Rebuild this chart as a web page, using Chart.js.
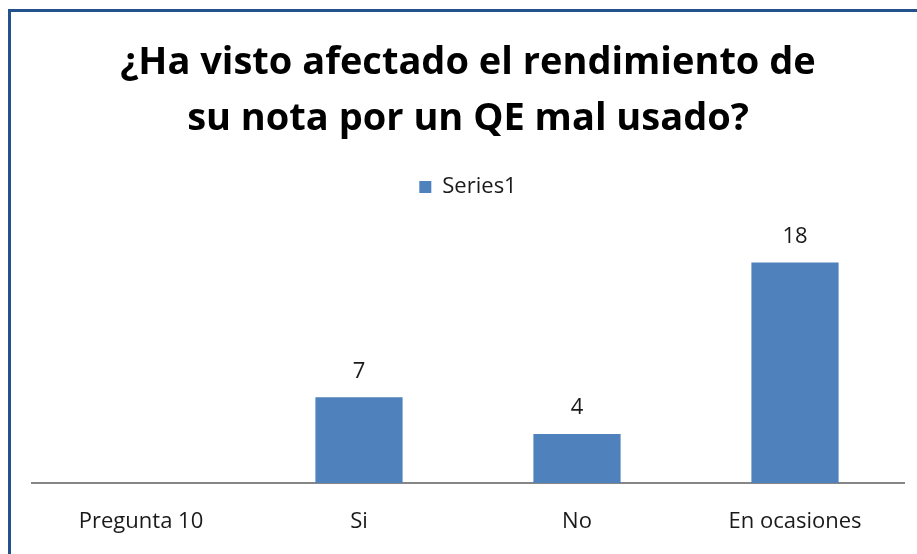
<!DOCTYPE html>
<html>
<head>
<meta charset="utf-8">
<script src="https://cdn.jsdelivr.net/npm/chart.js@4/dist/chart.umd.min.js"></script>
<style>
  html, body { margin: 0; padding: 0; background: #ffffff; overflow: hidden; }
  #frame {
    position: absolute; left: 8px; top: 9px; width: 1000px; height: 1000px;
    border-left: 3px solid #24528c; border-top: 3px solid #24528c;
  }
  #chart { position: absolute; left: 0; top: 0; }
</style>
</head>
<body>
<div id="frame"></div>
<canvas id="chart" width="917" height="554"></canvas>
<script>
  var categories = ['Pregunta 10', 'Si', 'No', 'En ocasiones'];
  var series1 = [null, 7, 4, 18];
  var titleLines = ['¿Ha visto afectado el rendimiento de', 'su nota por un QE mal usado?'];

  var FONT = '"Open Sans", Lato, sans-serif';

  // value labels above each bar
  var barLabels = {
    id: 'barLabels',
    afterDatasetsDraw: function (chart) {
      var ctx = chart.ctx;
      var meta = chart.getDatasetMeta(0);
      ctx.save();
      ctx.font = '22px ' + FONT;
      ctx.fillStyle = '#1a1a1a';
      ctx.textAlign = 'center';
      ctx.textBaseline = 'middle';
      meta.data.forEach(function (bar, i) {
        var v = series1[i];
        if (v === null || v === undefined) return;
        ctx.fillText(String(v), bar.x, bar.y - 26);
      });
      ctx.restore();
    }
  };

  new Chart(document.getElementById('chart').getContext('2d'), {
    type: 'bar',
    data: {
      labels: categories,
      datasets: [{
        label: 'Series1',
        data: series1,
        backgroundColor: '#4f81bd',
        borderWidth: 0,
        categoryPercentage: 1,
        barPercentage: 0.4
      }]
    },
    options: {
      responsive: false,
      animation: false,
      layout: { padding: { left: 32, right: 13, top: 0, bottom: 0 } },
      plugins: {
        title: {
          display: true,
          text: titleLines,
          color: '#000000',
          font: { family: FONT, size: 38, weight: 'bold', lineHeight: '56px' },
          padding: { top: 35, bottom: 0 }
        },
        legend: {
          display: true,
          position: 'top',
          labels: {
            color: '#1a1a1a',
            font: { family: FONT, size: 22 },
            boxWidth: 12,
            boxHeight: 12,
            padding: 29
          }
        },
        tooltip: { enabled: false }
      },
      scales: {
        x: {
          grid: { display: false },
          border: { color: '#868686', width: 2 },
          ticks: { color: '#1a1a1a', font: { family: FONT, size: 22 }, padding: 18 },
          afterFit: function (scale) { scale.height = 71; }
        },
        // empty spacer between legend and plot
        xTop: {
          position: 'top',
          grid: { display: false },
          border: { display: false },
          ticks: { display: false },
          afterFit: function (scale) { scale.height = 30; }
        },
        y: {
          display: false,
          min: 0,
          max: 20
        }
      }
    },
    plugins: [barLabels]
  });
</script>
</body>
</html>
